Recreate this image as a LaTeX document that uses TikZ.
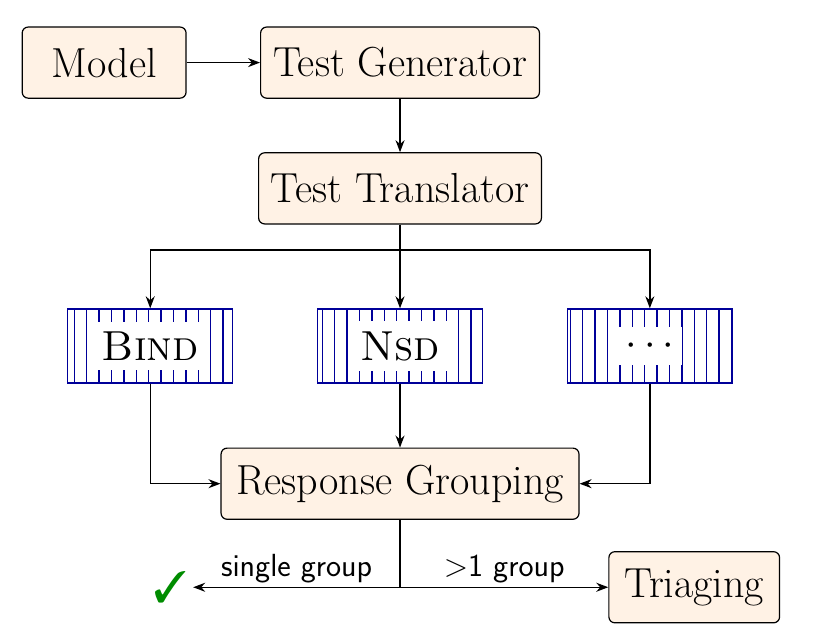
\documentclass[tikz,border=0pt]{standalone}
\usepackage{fontspec}
\usepackage{pifont}
\usetikzlibrary{arrows.meta,patterns.meta}
\tikzset{
  box/.style={draw, line width=0.6pt, rounded corners=3pt, fill=orange!10, minimum height=1.25cm, font=\fontsize{21}{24}\selectfont},
  engine/.style={draw=blue!60!black, line width=0.7pt, minimum width=2.9cm, minimum height=1.3cm,
    pattern={Lines[angle=90,distance=6.2pt,line width=0.7pt]}, pattern color=blue!60!black},
  lbl/.style={fill=white, inner xsep=4pt, inner ysep=5pt, font=\fontsize{21}{24}\selectfont},
  edge/.style={-{Stealth[length=6pt]}, line width=0.7pt},
  cond/.style={font=\sffamily\fontsize{16}{18}\selectfont, above, inner sep=2pt}
}
\begin{document}
\begin{tikzpicture}
\useasboundingbox (0,0) rectangle (14.34,-11.16);
\node[box, minimum width=2.88cm] (model) at (1.83,-1.10) {Model};
\node[box, minimum width=4.90cm] (gen) at (7.03,-1.10) {Test Generator};
\node[box, minimum width=4.97cm] (trans) at (7.03,-3.31) {Test Translator};
% engines
\foreach \x/\n/\t in {2.64/bind/\textsc{Bind}, 7.03/nsd/\textsc{Nsd}, 11.42/dots/$\cdots$}{
  \node[engine] (\n) at (\x,-6.08) {};
  \node[lbl] (\n lbl) at (\n) {\t};
}
\node[box, minimum width=6.29cm] (rg) at (7.03,-8.50) {Response Grouping};
\node[box, minimum width=3.00cm] (tri) at (12.20,-10.32) {Triaging};
\node[inner sep=3pt] (ok) at (2.99,-10.32) {\color{green!55!black}\fontsize{22}{22}\selectfont\ding{51}};
\coordinate (split) at (7.03,-4.39);
\coordinate (fork) at (7.03,-10.32);

\draw[edge] (model) -- (gen);
\draw[edge] (gen) -- (trans);
\draw[line width=0.7pt] (trans) -- (split);
\draw[edge] (split) -| (bind);
\draw[edge] (split) -- (nsd);
\draw[edge] (split) -| (dots);
\draw[edge] (bind) |- (rg);
\draw[edge] (nsd) -- (rg);
\draw[edge] (dots) |- (rg);
\draw[line width=0.7pt] (rg) -- (fork);
\draw[edge] (fork) -- (ok) node[cond, midway] {single group};
\draw[edge] (fork) -- (tri) node[cond, midway] {>1 group};
\end{tikzpicture}
\end{document}
